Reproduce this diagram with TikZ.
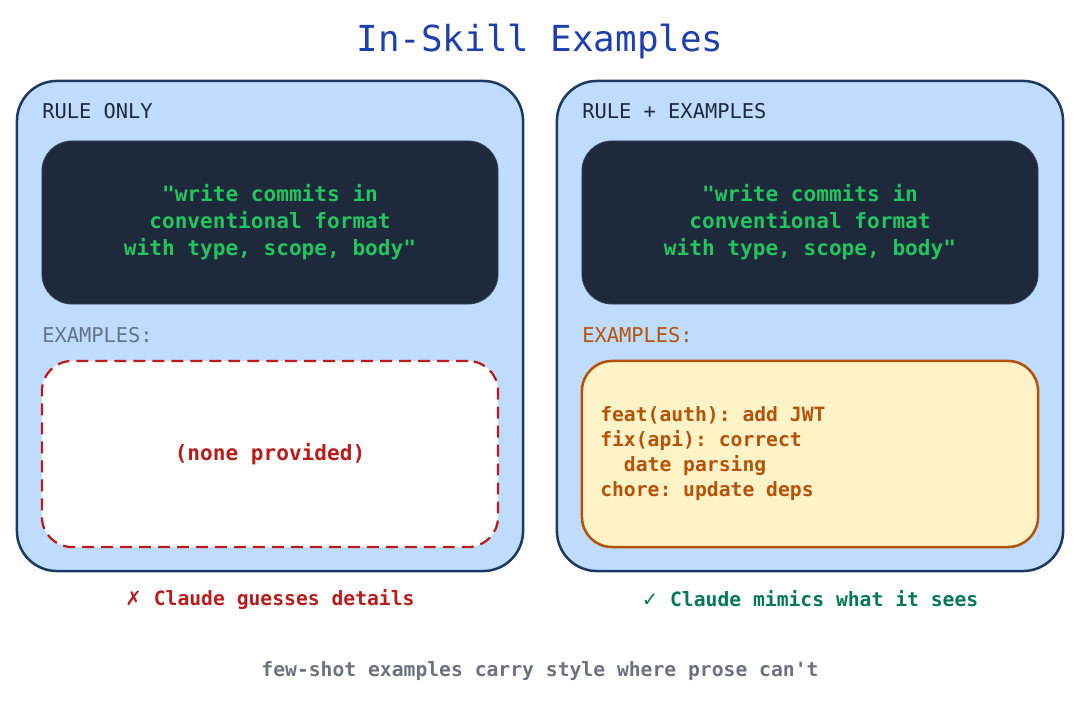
\documentclass[tikz,border=0pt]{standalone}
\usepackage{xcolor}
\usepackage{fontspec}
\usepackage{tikz}
\usetikzlibrary{positioning}
\setmonofont{DejaVu Sans Mono}
\newfontfamily\symfont{DejaVu Sans}
\definecolor{panelfill}{HTML}{BFDBFE}
\definecolor{paneldraw}{HTML}{1E3A5F}
\definecolor{rulefill}{HTML}{1E293B}
\definecolor{ruledraw}{HTML}{334155}
\definecolor{rulegreen}{HTML}{22C55E}
\definecolor{badred}{HTML}{B91C1C}
\definecolor{tagslate}{HTML}{64748B}
\definecolor{exbrown}{HTML}{B45309}
\definecolor{exfill}{HTML}{FEF3C7}
\definecolor{goodgreen}{HTML}{047857}
\definecolor{notegray}{HTML}{6B7280}
\definecolor{titleblue}{HTML}{1E40AF}

\begin{document}
\begin{tikzpicture}[
  x=0.025cm, y=-0.025cm,
  panel/.style={rectangle, draw=paneldraw, line width=1.8pt, fill=panelfill, rounded corners=1cm, minimum width=12.65cm, minimum height=12.25cm},
  rulebox/.style={rectangle, draw=ruledraw, line width=0.6pt, fill=rulefill, rounded corners=0.75cm, minimum width=11.4cm, minimum height=4.075cm, align=center, text=rulegreen, font=\ttfamily\bfseries\fontsize{15}{19.2}\selectfont},
  nonebox/.style={rectangle, draw=badred, line width=1.6pt, dash pattern=on 8.5pt off 5pt, fill=white, rounded corners=0.75cm, minimum width=11.4cm, minimum height=4.65cm, text=badred, font=\ttfamily\bfseries\fontsize{15}{18}\selectfont},
  exbox/.style={rectangle, draw=exbrown, line width=1.8pt, fill=exfill, rounded corners=0.75cm, minimum width=11.4cm, minimum height=4.65cm},
  tag/.style={anchor=west, inner sep=0pt, font=\ttfamily\fontsize{14.5}{17}\selectfont},
  caption/.style={font=\ttfamily\bfseries\fontsize{14}{17}\selectfont}
]
  \useasboundingbox (0,0) rectangle (1080,702);
  \node[font=\ttfamily\fontsize{25.5}{30}\selectfont, text=titleblue] (title) at (540,42) {In-Skill Examples};

  % rule only
  \node[panel] (left) at (270,326) {};
  \node[tag, text=rulefill] (lefttag) at (42,111) {RULE ONLY};
  \node[rulebox] (leftrule) at (270,222.5) {"write commits in\\conventional format\\with type, scope, body"};
  \node[tag, text=tagslate] (leftex) at (42,335) {EXAMPLES:};
  \node[nonebox] (none) at (270,454) {(none provided)};
  \node[caption, text=badred] (guess) at (270,600) {{\symfont\mdseries ✗} Claude guesses details};

  % rule + examples
  \node[panel] (right) at (810,326) {};
  \node[tag, text=rulefill] (righttag) at (582,111) {RULE + EXAMPLES};
  \node[rulebox] (rightrule) at (810,222.5) {"write commits in\\conventional format\\with type, scope, body"};
  \node[tag, text=exbrown] (rightex) at (582,335) {EXAMPLES:};
  \node[exbox] (shots) at (810,454) {};
  \node[anchor=west, inner sep=0pt, align=left, text=exbrown, font=\ttfamily\bfseries\fontsize{14}{17.8}\selectfont] (commits) at (600,454)
    {feat(auth): add JWT\\fix(api): correct\\\ \ date parsing\\chore: update deps};
  \node[caption, text=goodgreen] (mimic) at (810,599) {{\symfont\mdseries ✓} Claude mimics what it sees};

  \node[caption, text=notegray] (note) at (540,671) {few-shot examples carry style where prose can't};
\end{tikzpicture}
\end{document}
